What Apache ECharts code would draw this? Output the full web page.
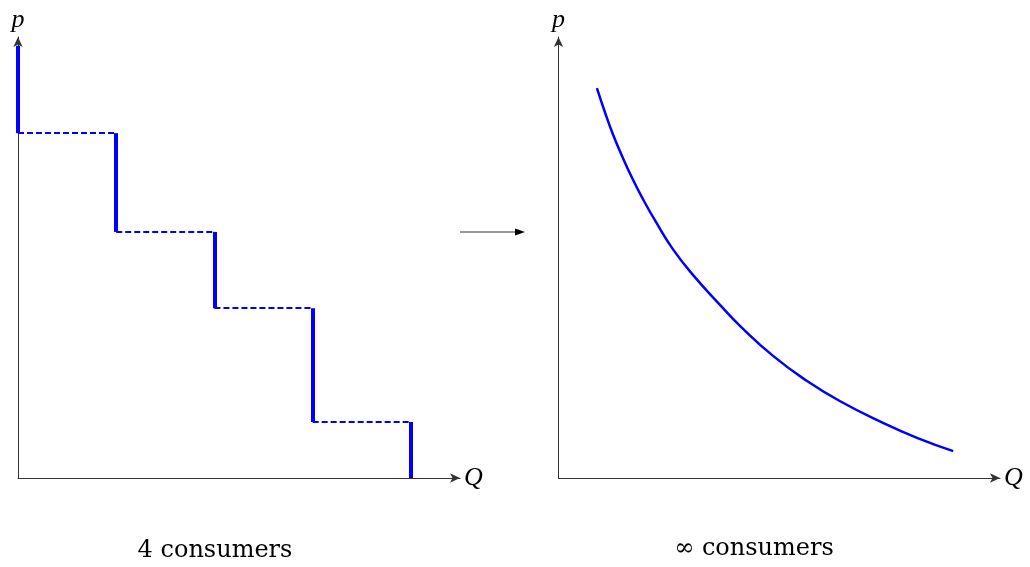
<!DOCTYPE html>
<html>
<head>
<meta charset="utf-8">
<script src="https://cdn.jsdelivr.net/npm/echarts@6/dist/echarts.min.js"></script>
<style>
  html, body { margin: 0; padding: 0; background: #fff; }
  #chart { width: 1030px; height: 567px; }
</style>
</head>
<body>
<div id="chart"></div>
<script>
// left panel: 4 consumers, step demand
const stepQ = [0, 1, 2, 3, 4];
const stepP = [9.8, 7.82, 5.58, 3.85, 1.27, 0];

// right panel: continuum of consumers, smooth demand
const curveQ = [0.87, 1.05, 1.23, 1.44, 1.66, 1.91, 2.21, 2.59, 3.05, 3.70, 4.11, 4.86, 5.63, 6.38, 7.35, 8.12, 8.94];
const curveP = [8.84, 8.30, 7.80, 7.30, 6.82, 6.33, 5.80, 5.19, 4.60, 3.88, 3.45, 2.77, 2.20, 1.74, 1.25, 0.91, 0.61];

const panelTitles = ['4 consumers', '∞ consumers'];

const serif = '"Liberation Serif", "DejaVu Serif", serif';
const labelFont = '"DejaVu Serif", serif';
const blue = '#0000ff';
const axisColor = '#333';

// build segments for the step function
const verticals = [];
const horizontals = [];
for (let i = 0; i < stepQ.length; i++) {
  verticals.push({ coords: [[stepQ[i], stepP[i]], [stepQ[i], stepP[i + 1]]] });
  if (i < stepQ.length - 1) {
    horizontals.push({ coords: [[stepQ[i], stepP[i + 1]], [stepQ[i + 1], stepP[i + 1]]] });
  }
}

function makeAxis(kind, gridIndex, max, name) {
  const a = {
    type: 'value',
    gridIndex: gridIndex,
    min: 0,
    max: max,
    name: name,
    nameLocation: 'end',
    nameGap: 4,
    nameTextStyle: { fontFamily: serif, fontStyle: 'italic', fontSize: 26, color: '#000' },
    axisLine: {
      show: true,
      onZero: false,
      symbol: ['none', 'arrow'],
      symbolSize: [7, 10],
      lineStyle: { color: axisColor, width: 1 }
    },
    axisTick: { show: false },
    axisLabel: { show: false },
    splitLine: { show: false }
  };
  if (kind === 'x') {
    a.nameTextStyle.verticalAlign = 'middle';
  } else {
    a.nameTextStyle.align = 'center';
  }
  return a;
}

const chart = echarts.init(document.getElementById('chart'));
chart.setOption({
  backgroundColor: '#fff',
  animation: false,
  grid: [
    { left: 18, top: 37, width: 442, height: 441 },
    { left: 558.5, top: 37, width: 441.5, height: 441 }
  ],
  xAxis: [makeAxis('x', 0, 4.5, 'Q'), makeAxis('x', 1, 10, 'Q')],
  yAxis: [makeAxis('y', 0, 10, 'p'), makeAxis('y', 1, 10, 'p')],
  series: [
    {
      type: 'lines',
      coordinateSystem: 'cartesian2d',
      xAxisIndex: 0, yAxisIndex: 0,
      data: horizontals,
      lineStyle: { color: blue, width: 2, type: [6, 3], opacity: 1 },
      z: 3
    },
    {
      type: 'lines',
      coordinateSystem: 'cartesian2d',
      xAxisIndex: 0, yAxisIndex: 0,
      data: verticals,
      lineStyle: { color: blue, width: 4, opacity: 1 },
      z: 4
    },
    {
      type: 'line',
      xAxisIndex: 1, yAxisIndex: 1,
      data: curveQ.map((q, i) => [q, curveP[i]]),
      smooth: true,
      showSymbol: false,
      lineStyle: { color: blue, width: 2.5 }
    }
  ],
  graphic: [
    {
      type: 'line',
      shape: { x1: 460, y1: 232, x2: 517, y2: 232 },
      style: { stroke: axisColor, lineWidth: 1 }
    },
    {
      type: 'polygon',
      shape: { points: [[525, 232], [515, 228.5], [515, 235.5]] },
      style: { fill: '#000' }
    },
    {
      type: 'text',
      x: 215, y: 563,
      style: { text: panelTitles[0], font: '24px ' + labelFont, fill: '#000', align: 'center', verticalAlign: 'bottom' }
    },
    {
      type: 'text',
      x: 754, y: 561,
      style: { text: panelTitles[1], font: '24px ' + labelFont, fill: '#000', align: 'center', verticalAlign: 'bottom' }
    }
  ]
});
</script>
</body>
</html>
